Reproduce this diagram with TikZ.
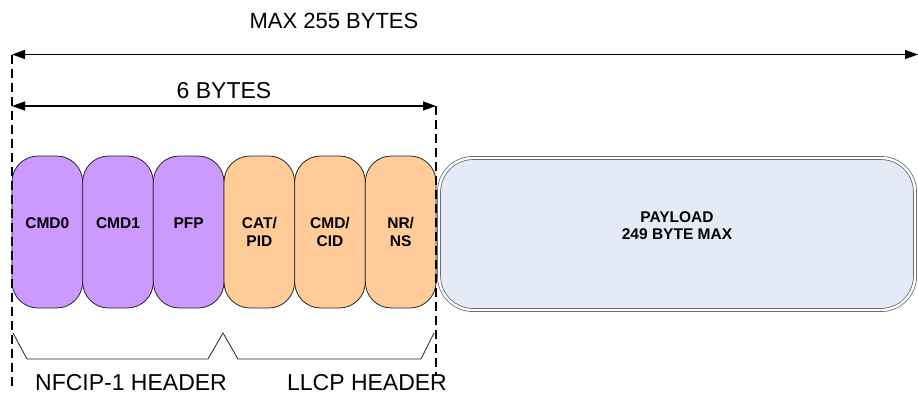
\documentclass[tikz,border=0pt]{standalone}
\usepackage{fontspec}
\setmainfont{Liberation Sans}
\usetikzlibrary{arrows.meta}
\definecolor{hdrpurple}{HTML}{CC99FF}
\definecolor{hdrorange}{HTML}{FFCC99}
\definecolor{payfill}{HTML}{E5EBF6}
\begin{document}
\begin{tikzpicture}[x=1pt,y=-1pt,
  field/.style={draw=black!85, line width=0.8pt, rounded corners=26pt,
    minimum width=70.67pt, minimum height=152pt, inner sep=0pt,
    font=\bfseries\fontsize{15.5}{18.5}\selectfont, align=center},
  purplefield/.style={field, fill=hdrpurple},
  orangefield/.style={field, fill=hdrorange},
  payloadbox/.style={draw=black!65, line width=0.7pt, double=white,
    double distance=2.4pt, fill=payfill, rounded corners=34pt,
    minimum width=476pt, minimum height=152pt, inner sep=0pt,
    font=\bfseries\fontsize{15.5}{17}\selectfont, align=center},
  dimline/.style={line width=2.3pt, dash pattern=on 9pt off 5pt},
  dimarrow/.style={line width=1.1pt,
    {Triangle[length=13pt,width=9pt]}-{Triangle[length=13pt,width=9pt]}},
  brace/.style={line width=0.8pt, black!85},
  caption/.style={inner sep=0pt, font=\fontsize{23}{27}\selectfont}
]
\useasboundingbox (0,0) rectangle (918,394);

% header fields
\node[purplefield] (cmd0) at (47.33,232) {CMD0\\\mbox{}};
\node[purplefield] (cmd1) at (118.0,232) {CMD1\\\mbox{}};
\node[purplefield] (pfp)  at (188.67,232) {PFP\\\mbox{}};
\node[orangefield] (cat)  at (259.33,232) {CAT/\\PID};
\node[orangefield] (cid)  at (330.0,232) {CMD/\\CID};
\node[orangefield] (nrns) at (400.67,232) {NR/\\NS};

% payload
\node[payloadbox] (pay) at (677,234) {PAYLOAD\\249 BYTE MAX\\\mbox{}};

% dimension lines
\coordinate (ltop) at (12,54.5);
\coordinate (lbot) at (12,387);
\coordinate (rtop) at (436,106);
\coordinate (rbot) at (436,376);
\coordinate (farright) at (918,54.5);
\coordinate (lmid) at (12,106);

\draw[dimline] (ltop) -- (lbot);
\draw[dimline] (rtop) -- (rbot);
\draw[dimarrow] (ltop) -- node[caption, font=\fontsize{22}{26}\selectfont, pos=0.3554, yshift=33.5pt] (maxlbl) {MAX 255 BYTES} (farright);
\draw[dimarrow] (lmid) -- node[caption, yshift=15pt] (sixlbl) {6 BYTES} (rtop);

% grouping braces
\coordinate (b0) at (13,333);
\coordinate (b1) at (27,359);
\coordinate (b2) at (208,359);
\coordinate (bm) at (223,333);
\coordinate (b3) at (238,359);
\coordinate (b4) at (421,359);
\coordinate (b5) at (434,333);
\draw[brace] (b0) -- (b1) -- (b2) -- (bm) -- (b3) -- (b4) -- (b5);

\node[caption] (nfc) at (131,383) {NFCIP-1 HEADER};
\node[caption] (llcp) at (367,383) {LLCP HEADER};
\end{tikzpicture}
\end{document}
